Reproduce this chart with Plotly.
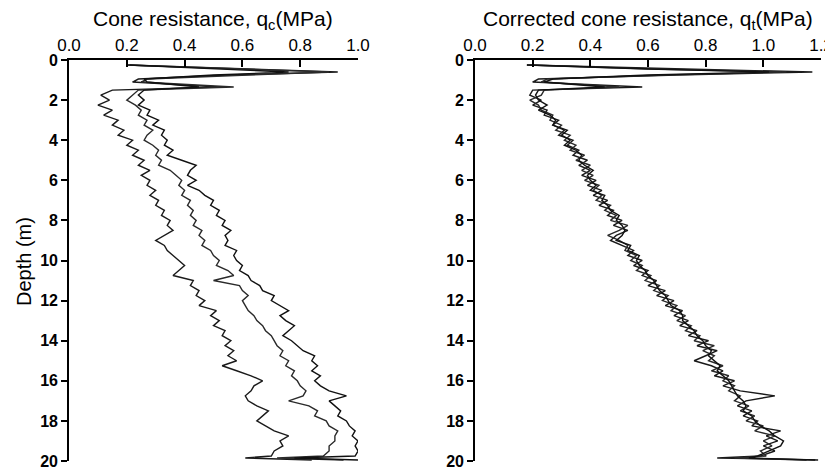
import plotly.graph_objects as go

# Depth (m) at which each profile value is read
depth = [0.25, 0.45, 0.6, 0.75, 0.95, 1.1, 1.35, 1.5,
         1.75, 2.0, 2.25, 2.5, 2.75, 3.0, 3.25, 3.5, 3.75, 4.0, 4.25, 4.5, 4.75,
         5.0, 5.25, 5.5, 5.75, 6.0, 6.25, 6.5, 6.75, 7.0, 7.25, 7.5, 7.75,
         8.0, 8.25, 8.5, 8.75, 9.0, 9.25, 9.5, 9.75, 10.0, 10.25, 10.5, 10.75,
         11.0, 11.25, 11.5, 11.75, 12.0, 12.25, 12.5, 12.75, 13.0, 13.25, 13.5, 13.75,
         14.0, 14.25, 14.5, 14.75, 15.0, 15.25, 15.5, 15.75, 16.0, 16.25, 16.5, 16.75,
         17.0, 17.25, 17.5, 17.75, 18.0, 18.25, 18.5, 18.75, 19.0, 19.25, 19.5, 19.75,
         19.85, 19.95]

# Cone resistance qc (MPa), three soundings
qc_a = [0.20, 0.60, 0.93, 0.55, 0.24, 0.22, 0.52, 0.15,
        0.11, 0.14, 0.10, 0.15, 0.12, 0.17, 0.15, 0.19, 0.17, 0.22, 0.20, 0.24, 0.22,
        0.26, 0.24, 0.28, 0.25, 0.28, 0.27, 0.30, 0.28, 0.31, 0.30, 0.33, 0.32,
        0.35, 0.34, 0.36, 0.33, 0.30, 0.33, 0.34, 0.36, 0.38, 0.40, 0.38, 0.36,
        0.43, 0.42, 0.45, 0.44, 0.47, 0.45, 0.51, 0.49, 0.52, 0.50, 0.54, 0.53,
        0.56, 0.54, 0.57, 0.55, 0.58, 0.53, 0.58, 0.63, 0.67, 0.64, 0.63, 0.61,
        0.62, 0.65, 0.69, 0.67, 0.65, 0.68, 0.71, 0.76, 0.73, 0.74, 0.71, 0.70,
        0.61, 0.84]
qc_b = [0.20, 0.58, 0.90, 0.62, 0.27, 0.25, 0.57, 0.24,
        0.22, 0.20, 0.23, 0.25, 0.24, 0.27, 0.26, 0.29, 0.27, 0.26, 0.29, 0.31, 0.30,
        0.32, 0.31, 0.35, 0.37, 0.39, 0.38, 0.40, 0.39, 0.42, 0.41, 0.43, 0.42,
        0.44, 0.43, 0.46, 0.45, 0.47, 0.46, 0.49, 0.50, 0.52, 0.51, 0.55, 0.57,
        0.50, 0.59, 0.60, 0.62, 0.60, 0.61, 0.62, 0.64, 0.65, 0.67, 0.68, 0.70,
        0.71, 0.72, 0.74, 0.73, 0.76, 0.75, 0.78, 0.77, 0.79, 0.80, 0.82, 0.81,
        0.76, 0.83, 0.86, 0.85, 0.89, 0.90, 0.93, 0.92, 0.92, 0.90, 0.90, 0.88,
        0.72, 0.95]
qc_c = [0.21, 0.55, 0.76, 0.50, 0.26, 0.27, 0.45, 0.26,
        0.24, 0.26, 0.24, 0.28, 0.27, 0.31, 0.29, 0.33, 0.32, 0.34, 0.33, 0.36, 0.34,
        0.39, 0.44, 0.42, 0.41, 0.44, 0.41, 0.45, 0.47, 0.50, 0.49, 0.52, 0.51,
        0.54, 0.53, 0.56, 0.54, 0.55, 0.54, 0.58, 0.57, 0.58, 0.60, 0.59, 0.62,
        0.63, 0.66, 0.67, 0.71, 0.70, 0.73, 0.76, 0.73, 0.75, 0.78, 0.76, 0.74,
        0.77, 0.79, 0.81, 0.85, 0.84, 0.86, 0.84, 0.87, 0.85, 0.87, 0.90, 0.96,
        0.90, 0.92, 0.94, 0.93, 0.96, 0.97, 0.99, 0.98, 1.00, 0.99, 1.00, 0.99,
        0.78, 1.00]

# Corrected cone resistance qt (MPa), three soundings
qt_a = [0.18, 0.70, 1.17, 0.70, 0.22, 0.20, 0.58, 0.20,
        0.19, 0.23, 0.20, 0.25, 0.24, 0.29, 0.27, 0.31, 0.29, 0.34, 0.32, 0.36, 0.34,
        0.39, 0.36, 0.40, 0.37, 0.42, 0.39, 0.44, 0.41, 0.46, 0.43, 0.48, 0.46,
        0.51, 0.48, 0.53, 0.49, 0.47, 0.51, 0.55, 0.53, 0.58, 0.55, 0.60, 0.58,
        0.63, 0.60, 0.66, 0.63, 0.69, 0.66, 0.72, 0.69, 0.74, 0.71, 0.77, 0.74,
        0.81, 0.77, 0.84, 0.80, 0.76, 0.82, 0.86, 0.83, 0.90, 0.86, 0.92, 1.04,
        0.94, 0.91, 0.96, 0.93, 0.98, 0.96, 1.06, 1.01, 1.05, 1.00, 1.04, 0.99,
        0.84, 1.19]
qt_b = [0.19, 0.62, 1.08, 0.66, 0.25, 0.23, 0.50, 0.24,
        0.23, 0.19, 0.22, 0.23, 0.27, 0.26, 0.30, 0.28, 0.33, 0.31, 0.35, 0.33, 0.38,
        0.35, 0.40, 0.37, 0.41, 0.38, 0.43, 0.41, 0.44, 0.42, 0.47, 0.45, 0.49,
        0.47, 0.53, 0.50, 0.46, 0.50, 0.53, 0.52, 0.56, 0.54, 0.58, 0.56, 0.61,
        0.59, 0.64, 0.62, 0.67, 0.65, 0.70, 0.68, 0.73, 0.70, 0.75, 0.73, 0.78,
        0.76, 0.83, 0.79, 0.83, 0.81, 0.86, 0.82, 0.88, 0.86, 0.90, 0.88, 0.92,
        0.90, 0.95, 0.92, 0.97, 0.94, 1.00, 0.97, 1.04, 1.00, 1.03, 0.99, 1.01,
        0.90, 1.15]
qt_c = [0.18, 0.60, 1.02, 0.60, 0.27, 0.24, 0.45, 0.22,
        0.21, 0.22, 0.25, 0.22, 0.26, 0.28, 0.27, 0.32, 0.30, 0.33, 0.31, 0.35, 0.37,
        0.36, 0.38, 0.41, 0.39, 0.40, 0.42, 0.40, 0.45, 0.44, 0.46, 0.47, 0.50,
        0.49, 0.51, 0.52, 0.51, 0.49, 0.54, 0.53, 0.57, 0.56, 0.57, 0.59, 0.60,
        0.62, 0.63, 0.64, 0.66, 0.67, 0.68, 0.71, 0.72, 0.72, 0.74, 0.76, 0.77,
        0.79, 0.80, 0.82, 0.81, 0.83, 0.85, 0.84, 0.86, 0.88, 0.89, 0.90, 0.91,
        0.93, 0.94, 0.93, 0.96, 0.97, 0.99, 1.02, 1.04, 1.07, 1.06, 1.02, 0.98,
        0.95, 1.18]

left_ticks = [0.0, 0.2, 0.4, 0.6, 0.8, 1.0]
right_ticks = [0.0, 0.2, 0.4, 0.6, 0.8, 1.0, 1.2]
depth_ticks = [0, 2, 4, 6, 8, 10, 12, 14, 16, 18, 20]

for s in (qc_a, qc_b, qc_c, qt_a, qt_b, qt_c):
    assert len(s) == len(depth), len(s)

W, H = 825, 472
FONT = "Liberation Sans, Arial, sans-serif"
NARROW = "Liberation Sans Narrow, Liberation Sans, Arial, sans-serif"
line_colors = ["#1a1a1a", "#2a2a2a", "#111111"]

fig = go.Figure()
for s, c in zip((qc_a, qc_b, qc_c), line_colors):
    fig.add_trace(go.Scatter(x=s, y=depth, mode="lines", xaxis="x", yaxis="y",
                             line=dict(color=c, width=1.4), showlegend=False))
for s, c in zip((qt_a, qt_b, qt_c), line_colors):
    fig.add_trace(go.Scatter(x=s, y=depth, mode="lines", xaxis="x2", yaxis="y2",
                             line=dict(color=c, width=1.4), showlegend=False))

ytop = 1 - 60 / H
ybot = 1 - 461 / H

common_x = dict(side="top", ticks="inside", ticklen=7, tickwidth=1.5, tickcolor="black",
                showline=True, linecolor="black", linewidth=1.6, showgrid=False,
                zeroline=False, tickfont=dict(size=17, color="black", family=FONT),
                tickformat=".1f", automargin=False, ticklabeloverflow="allow")
common_y = dict(range=[20, 0], tickvals=depth_ticks, ticks="outside", ticklen=6, tickwidth=1.5,
                tickcolor="black", showline=True, linecolor="black", linewidth=1.6,
                showgrid=False, zeroline=False, automargin=False,
                tickfont=dict(size=16, color="black", family=NARROW, weight="bold"),
                domain=[ybot, ytop])

fig.update_layout(
    width=W, height=H, margin=dict(l=0, r=0, t=0, b=0),
    paper_bgcolor="white", plot_bgcolor="white",
    xaxis=dict(domain=[69 / W, 358 / W], range=[0, 1.0], tickvals=left_ticks, anchor="y",
               **common_x),
    xaxis2=dict(domain=[475 / W, 821 / W], range=[0, 1.2], tickvals=right_ticks, anchor="y2",
                **common_x),
    yaxis=dict(anchor="x", **common_y),
    yaxis2=dict(anchor="x2", **common_y),
    annotations=[
        dict(text="Cone resistance, q<sub>c</sub>(MPa)", xref="paper", yref="paper",
             x=213 / W, y=1 - 20 / H, xanchor="center", yanchor="middle", showarrow=False,
             font=dict(size=21, color="black", family=FONT)),
        dict(text="Corrected cone resistance, q<sub>t</sub>(MPa)", xref="paper", yref="paper",
             x=648 / W, y=1 - 20 / H, xanchor="center", yanchor="middle", showarrow=False,
             font=dict(size=21, color="black", family=FONT)),
        dict(text="Depth (m)", xref="paper", yref="paper", textangle=-90,
             x=24 / W, y=1 - 262 / H, xanchor="center", yanchor="middle", showarrow=False,
             font=dict(size=20, color="black", family=FONT)),
    ],
)

fig.write_html("out.html")
